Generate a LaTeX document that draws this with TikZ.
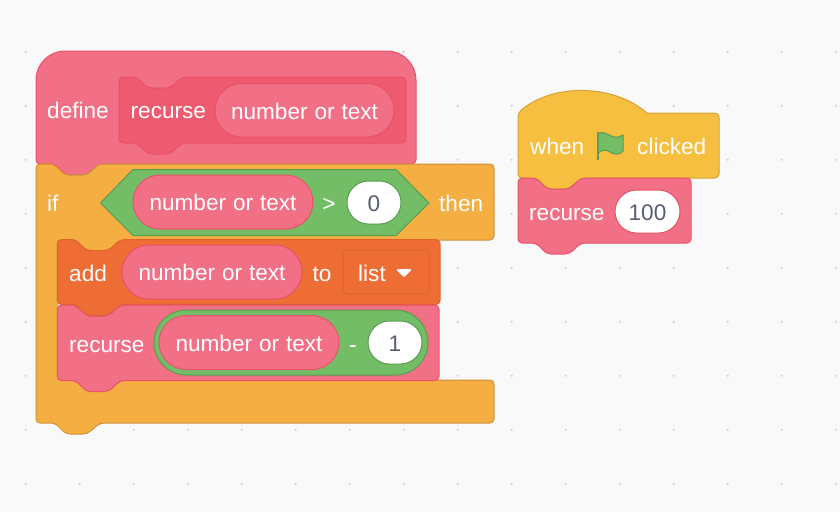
\documentclass[tikz,border=0pt]{standalone}
\usepackage{fontspec}
\setmainfont[WordSpace=1.1]{Liberation Sans}

\begin{document}
\begin{tikzpicture}[x=1pt,y=-1pt,
  lbl/.style={text=white,inner sep=0pt,text height=17.5pt,text depth=0pt,font=\fontsize{22.6}{26}\selectfont},
  pill/.style={lbl,draw,line width=1pt,fill=#1},
  pinkblk/.style={fill=pinkfill,draw=pinkline,line width=1pt,line join=round},
  innerblk/.style={fill=innerfill,draw=innerline,line width=1pt},
  ifblk/.style={fill=iffill,draw=ifline,line width=1pt},
  addblk/.style={fill=addfill,draw=addline,line width=1pt},
  hatblk/.style={fill=hatfill,draw=hatline,line width=1pt},
  boolblk/.style={fill=boolfill,draw=boolline,line width=1pt}]

\definecolor{canvas}{HTML}{F9F9F9}
\definecolor{griddot}{HTML}{D2D2D2}
\definecolor{pinkfill}{HTML}{F17085}
\definecolor{pinkline}{HTML}{E9526A}
\definecolor{innerfill}{HTML}{EE5A6F}
\definecolor{innerline}{HTML}{EA5268}
\definecolor{iffill}{HTML}{F5AE42}
\definecolor{ifline}{HTML}{CB9238}
\definecolor{addfill}{HTML}{EE6D35}
\definecolor{addline}{HTML}{E0622C}
\definecolor{hatfill}{HTML}{F6BF3F}
\definecolor{hatline}{HTML}{D3A339}
\definecolor{boolfill}{HTML}{72BD65}
\definecolor{boolline}{HTML}{5A9C50}
\definecolor{valtext}{HTML}{575E75}

\def\stackblock#1#2#3#4#5{
\draw[#1,rounded corners=4pt] (#2,#4) -- ({#2+18},#4) -- ({#2+29},{#4+11}) -- ({#2+51},{#4+11}) -- ({#2+63},#4)
  -- (#3,#4) -- (#3,#5) -- ({#2+63},#5) -- ({#2+51},{#5+11}) -- ({#2+29},{#5+11}) -- ({#2+18},#5) -- (#2,#5) -- cycle;
}

\fill[canvas] (0,0) rectangle (840,512);
\foreach \i in {0,...,15}
  \foreach \j in {1,...,9}
    \fill[griddot] ({25.7+54*\i},{-2.3+54*\j}) circle (1.2);

% define block
\draw[pinkblk] [rounded corners=29pt] (36,120) -- (36,51) -- (416,51) -- (416,120)
  [rounded corners=4pt] -- (416,164) -- (100,164) -- (87,175) -- (66,175) -- (55,164) -- (36,164) -- cycle;
\stackblock{innerblk}{119}{406}{77}{143}
\node[pill=pinkfill,draw=pinkline,minimum width=179pt,minimum height=53.5pt,rounded corners=26.7pt] (defarg) at (304.5,110.25) {number or text};
\node[lbl,anchor=west] (deflbl) at (47,110) {define};
\node[lbl,anchor=west] (defname) at (130.5,110) {recurse};

% if block
\draw[ifblk,rounded corners=4pt] (36,164) -- (54,164) -- (65,175) -- (87,175) -- (99,164) -- (494,164) -- (494,240)
  -- (120,240) -- (108,251) -- (87,251) -- (75,240) -- (57,240) -- (57,380) -- (494,380) -- (494,423) -- (100,423)
  -- (87,434) -- (66,434) -- (55,423) -- (36,423) -- cycle;
\draw[boolblk,line join=round] (100.5,203) -- (133,169.5) -- (396,169.5) -- (429,203) -- (396,235.5) -- (133,235.5) -- cycle;
\node[pill=pinkfill,draw=pinkline,minimum width=180pt,minimum height=54pt,rounded corners=27pt] (ifarg) at (223,202) {number or text};
\node[lbl,anchor=center] (gtlbl) at (329,203) {>};
\node[pill=white,draw=boolline,text=valtext,minimum width=54pt,minimum height=43pt,rounded corners=21.5pt] (ifval) at (374,202.5) {0};
\node[lbl,anchor=west] (iflbl) at (47,203) {if};
\node[lbl,anchor=west] (thenlbl) at (439,203) {then};

% add to list
\stackblock{addblk}{57.5}{440}{239.5}{304.5}
\node[pill=pinkfill,draw=pinkline,minimum width=180pt,minimum height=54pt,rounded corners=27pt] (addarg) at (212,272) {number or text};
\node[lbl,anchor=west] (addlbl) at (69,273) {add};
\node[lbl,anchor=center] (tolbl) at (322,273) {to};
\node[pill=addfill,draw=addline,minimum width=86pt,minimum height=44pt,rounded corners=4pt] (listbox) at (386,272) {};
\node[lbl,anchor=west] (listlbl) at (358,273) {list};
\fill[white,draw=white,line width=2pt,line join=round] (398,270) -- (410,270) -- (404,276) -- cycle;

% recurse call
\stackblock{pinkblk}{57.5}{439}{305}{380.5}
\node[lbl,anchor=west] (reclbl) at (69,343.5) {recurse};
\node[pill=boolfill,draw=boolline,minimum width=274pt,minimum height=65pt,rounded corners=32.5pt] (minusbox) at (291,342.5) {};
\node[pill=pinkfill,draw=pinkline,minimum width=180pt,minimum height=54pt,rounded corners=27pt] (recarg) at (249,342.5) {number or text};
\node[lbl,anchor=center] (minuslbl) at (353,343.5) {-};
\node[pill=white,draw=boolline,text=valtext,minimum width=54pt,minimum height=43pt,rounded corners=21.5pt] (recval) at (395,342.5) {1};

% when flag clicked
\draw[hatblk,line join=round] (518,113) .. controls (551.6,83.4) and (613.4,83.4) .. (647,113)
  [rounded corners=4pt] -- (719,113) -- (719,178) -- (582,178) -- (569,189) -- (548,189) -- (537,178) -- (518,178) -- cycle;
\node[lbl,anchor=west] (whenlbl) at (530,146) {when};
\node[lbl,anchor=west] (clicklbl) at (637,146) {clicked};
\draw[boolline,line width=2.4pt] (598,132) -- (598,160);
\draw[boolblk,line join=round] (598,134) .. controls (604,130) and (609,136) .. (614,137) .. controls (618,138) and (621,136) .. (623,135)
  -- (623,151) .. controls (620,155) and (614,155) .. (610,152) .. controls (606,149) and (602,150) .. (598,153) -- cycle;

% recurse 100
\stackblock{pinkblk}{518}{691}{178}{243}
\node[lbl,anchor=west] (stacklbl) at (529,211.5) {recurse};
\node[pill=white,draw=pinkline,text=valtext,minimum width=65pt,minimum height=43pt,rounded corners=21.5pt] (stackval) at (647.5,211.5) {100};

\end{tikzpicture}
\end{document}
